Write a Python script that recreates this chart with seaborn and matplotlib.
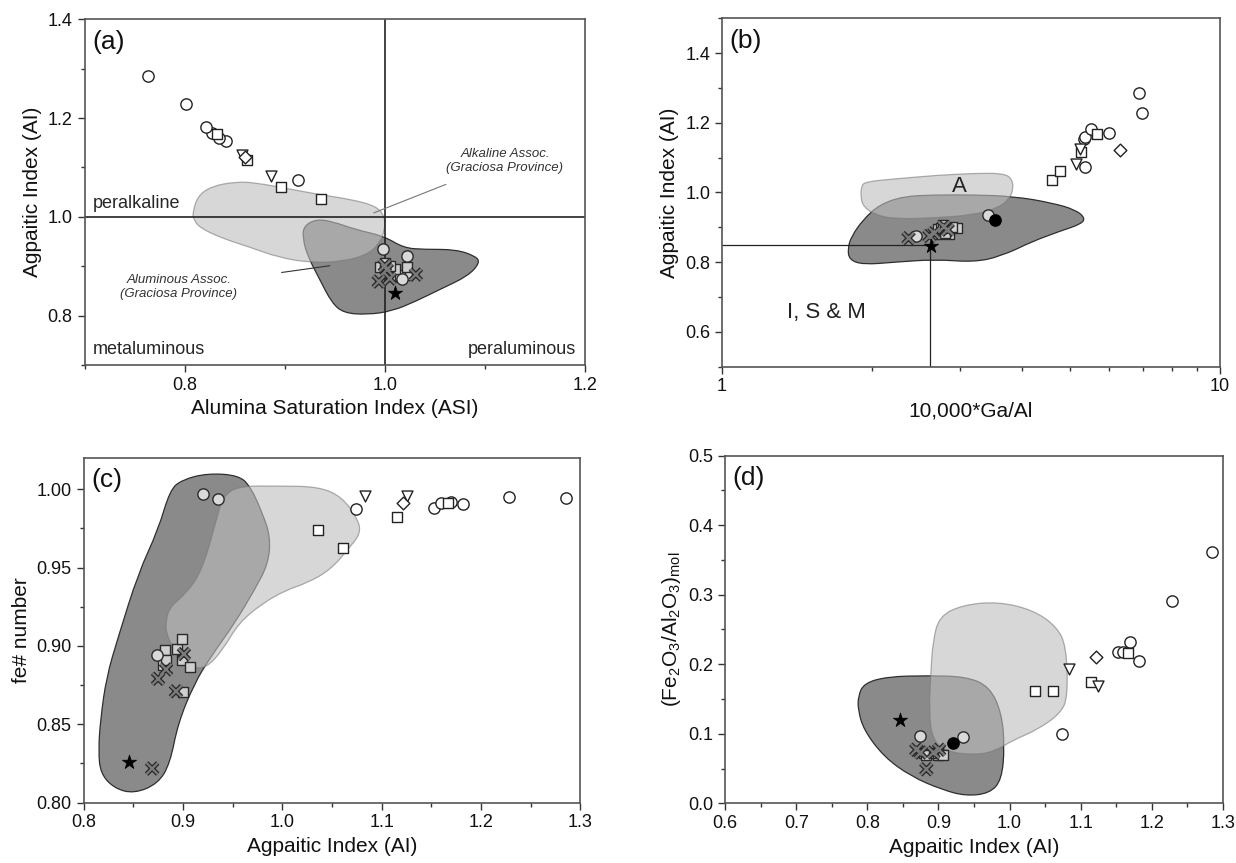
import numpy as np
import pandas as pd
import matplotlib
matplotlib.use("Agg")
import matplotlib.pyplot as plt
import matplotlib.patheffects as pe
from matplotlib.path import Path
from matplotlib.patches import PathPatch
from matplotlib.ticker import MultipleLocator, FormatStrFormatter, LogLocator, NullFormatter
import seaborn as sns

nan = np.nan

# ---- samples (one value per sample, same order in every array of a group)
# open circles
circ_ai = [1.074, 1.153, 1.160, 1.170, 1.182, 1.228, 1.285]
circ_asi = [0.913, 0.841, 0.834, 0.827, 0.821, 0.801, 0.763]
circ_ga = [5.36, 5.33, 5.36, 5.98, 5.51, 6.99, 6.88]
circ_fe = [0.9876, 0.9879, 0.9913, 0.9917, 0.9908, 0.9953, 0.9942]
circ_feal = [0.100, 0.217, 0.218, 0.232, 0.205, 0.291, 0.362]

# open squares
sq_ai = [1.036, 1.061, 1.115, 1.167]
sq_asi = [0.936, 0.896, 0.862, 0.832]
sq_ga = [4.61, 4.78, 5.27, 5.66]
sq_fe = [0.974, 0.9625, 0.9825, 0.9915]
sq_feal = [0.161, 0.161, 0.174, 0.216]

# open down triangles
tri_ai = [1.083, 1.125]
tri_asi = [0.886, 0.857]
tri_ga = [5.13, 5.24]
tri_fe = [0.996, 0.996]
tri_feal = [0.193, 0.169]

# open diamond
dia_ai = [1.121]
dia_asi = [0.860]
dia_ga = [6.29]
dia_fe = [0.991]
dia_feal = [0.211]

# grey circles
gc_ai = [0.935, 0.920, 0.874]
gc_asi = [0.998, 1.022, 1.017]
gc_ga = [3.42, nan, 2.45]
gc_fe = [0.994, 0.9968, 0.894]
gc_feal = [0.096, nan, 0.097]

# black circle
bc_ai = [0.920]
bc_asi = [nan]
bc_ga = [3.54]
bc_fe = [nan]
bc_feal = [0.087]

# grey squares
gs_ai = [0.880, 0.882, 0.883, 0.894, 0.899, 0.899, 0.900, 0.907]
gs_asi = [1.009, 1.022, 1.015, 1.010, 0.995, 1.022, 1.005, 1.000]
gs_ga = [2.86, 2.72, 2.80, 2.72, 2.75, 2.97, 2.90, 2.78]
gs_fe = [0.8875, 0.8973, 0.891, 0.898, 0.9044, 0.891, 0.8707, 0.8867]
gs_feal = [0.072, 0.072, 0.070, 0.072, 0.072, 0.070, 0.072, 0.0695]

# crosses
x_ai = [0.869, 0.875, 0.883, 0.893, 0.901]
x_asi = [0.994, 1.005, 1.031, 1.002, 1.000]
x_ga = [2.37, 2.61, 2.67, 2.84, 2.79]
x_fe = [0.8217, 0.879, 0.885, 0.871, 0.8948]
x_feal = [0.077, 0.073, 0.049, 0.073, 0.077]

# star
st_ai = [0.846]
st_asi = [1.010]
st_ga = [2.63]
st_fe = [0.826]
st_feal = [0.120]

# ---- Graciosa Province fields (outline vertices)
alk_a_x = [0.808, 0.813, 0.827, 0.851, 0.871, 0.903, 0.935, 0.967, 0.991, 1.000,
           1.000, 0.995, 0.983, 0.959, 0.927, 0.895, 0.863, 0.837, 0.815, 0.809]
alk_a_y = [1.008, 1.042, 1.062, 1.071, 1.069, 1.057, 1.045, 1.035, 1.022, 1.001,
           0.974, 0.947, 0.924, 0.910, 0.907, 0.917, 0.940, 0.957, 0.978, 0.995]
alu_a_x = [0.919, 0.931, 0.947, 0.971, 0.999, 1.019, 1.039, 1.071, 1.091, 1.095,
           1.083, 1.055, 1.031, 1.007, 0.983, 0.959, 0.947, 0.935, 0.923, 0.918]
alu_a_y = [0.981, 0.995, 0.991, 0.974, 0.961, 0.937, 0.934, 0.934, 0.920, 0.907,
           0.880, 0.853, 0.829, 0.809, 0.802, 0.805, 0.826, 0.873, 0.920, 0.957]

alk_b_x = [1.905, 1.94, 2.22, 2.67, 3.20, 3.66, 3.82, 3.85,
           3.76, 3.57, 3.20, 2.67, 2.22, 2.03, 1.92, 1.90]
alk_b_y = [1.017, 1.031, 1.039, 1.049, 1.055, 1.055, 1.041, 1.008,
           0.979, 0.955, 0.936, 0.927, 0.924, 0.936, 0.960, 0.989]
alu_b_x = [1.79, 1.82, 1.92, 2.07, 2.31, 2.67, 3.20, 3.83, 4.60, 5.13,
           5.36, 5.27, 4.77, 4.20, 3.63, 3.20, 2.67, 2.22, 1.92, 1.80]
alu_b_y = [0.841, 0.874, 0.922, 0.965, 0.989, 0.993, 0.993, 0.989, 0.970, 0.950,
           0.927, 0.910, 0.889, 0.860, 0.817, 0.800, 0.808, 0.800, 0.793, 0.807]

alk_c_x = [0.883, 0.887, 0.9035, 0.9196, 0.9337, 0.940, 0.9558, 0.996, 1.0363, 1.060,
           1.0766, 1.0786, 1.0685, 1.0484, 1.0243, 1.004, 0.980, 0.9558, 0.940, 0.9236,
           0.9095, 0.8914, 0.883]
alk_c_y = [0.9165, 0.925, 0.9335, 0.9485, 0.9804, 0.9953, 1.0021, 1.0021, 1.0017, 0.9953,
           0.9804, 0.9719, 0.9634, 0.9485, 0.940, 0.9357, 0.9272, 0.9144, 0.8973, 0.886,
           0.886, 0.8973, 0.908]
alu_c_x = [0.815, 0.817, 0.823, 0.835, 0.855, 0.875, 0.887, 0.899, 0.924, 0.956,
           0.968, 0.980, 0.988, 0.986, 0.972, 0.952, 0.928, 0.9115, 0.895, 0.887,
           0.875, 0.851, 0.831, 0.817]
alu_c_y = [0.8334, 0.8526, 0.880, 0.9059, 0.9463, 0.974, 0.9996, 1.006, 1.0102, 1.009,
           1.0017, 0.9847, 0.9698, 0.9527, 0.9357, 0.9144, 0.8931, 0.876, 0.8505, 0.8249,
           0.8121, 0.8057, 0.809, 0.8185]

alk_d_x = [0.892, 0.9005, 0.9337, 0.9835, 1.0333, 1.0665, 1.080, 1.082, 1.072,
           1.0388, 1.0056, 0.978, 0.950, 0.9116, 0.892, 0.8867, 0.8895]
alk_d_y = [0.230, 0.2685, 0.2852, 0.290, 0.278, 0.254, 0.2253, 0.1534, 0.1294,
           0.1055, 0.0911, 0.0743, 0.0695, 0.0743, 0.0911, 0.1294, 0.1918]
alu_d_x = [0.787, 0.795, 0.8286, 0.884, 0.939, 0.972, 0.989, 0.993,
           0.989, 0.972, 0.939, 0.906, 0.8618, 0.823, 0.795, 0.787]
alu_d_y = [0.1534, 0.1726, 0.1822, 0.1836, 0.1822, 0.1678, 0.1294, 0.0815,
           0.0336, 0.0144, 0.0105, 0.0192, 0.0384, 0.0671, 0.1055, 0.1342]

# reference boundaries
asi_split = 1.0
ai_split_a = 1.0
ga_split = 2.62
ai_split_b = 0.85

# ---- table of samples
groups = {
    "circle": (circ_ai, circ_asi, circ_ga, circ_fe, circ_feal),
    "square": (sq_ai, sq_asi, sq_ga, sq_fe, sq_feal),
    "triangle": (tri_ai, tri_asi, tri_ga, tri_fe, tri_feal),
    "diamond": (dia_ai, dia_asi, dia_ga, dia_fe, dia_feal),
    "grey circle": (gc_ai, gc_asi, gc_ga, gc_fe, gc_feal),
    "black circle": (bc_ai, bc_asi, bc_ga, bc_fe, bc_feal),
    "grey square": (gs_ai, gs_asi, gs_ga, gs_fe, gs_feal),
    "cross": (x_ai, x_asi, x_ga, x_fe, x_feal),
    "star": (st_ai, st_asi, st_ga, st_fe, st_feal),
}
frames = []
for name, (ai, asi, ga, fe, feal) in groups.items():
    frames.append(pd.DataFrame({"group": name, "AI": ai, "ASI": asi, "GA": ga,
                                "FE": fe, "FEAL": feal}))
df = pd.concat(frames, ignore_index=True)

STYLES = {
    "circle": dict(marker="o", s=66, color="white", edgecolor="#222222", linewidth=1.0),
    "square": dict(marker="s", s=56, color="white", edgecolor="#222222", linewidth=1.0),
    "triangle": dict(marker="v", s=62, color="white", edgecolor="#222222", linewidth=1.0),
    "diamond": dict(marker="D", s=42, color="white", edgecolor="#222222", linewidth=1.0),
    "grey square": dict(marker="s", s=56, color="#cfcfcf", edgecolor="#2a2a2a", linewidth=1.0),
    "grey circle": dict(marker="o", s=66, color="#d9d9d9", edgecolor="#2a2a2a", linewidth=1.0),
    "black circle": dict(marker="o", s=66, color="black", edgecolor="black", linewidth=1.0),
    "cross": dict(marker="x", s=64, color="#7a7a7a", linewidth=1.7),
    "star": dict(marker="*", s=115, color="black", edgecolor="black", linewidth=0.5),
}

sns.set_style("ticks")
plt.rcParams["font.family"] = ["Liberation Sans", "DejaVu Sans"]
plt.rcParams["mathtext.fontset"] = "custom"
plt.rcParams["mathtext.rm"] = "Liberation Sans"
plt.rcParams["mathtext.it"] = "Liberation Sans:italic"

DARK = "#8a8a8a"
LIGHT = "#bdbdbd"


def blob(ax, xs, ys, face, edge, alpha, z):
    # smooth closed outline through the traced vertices
    pts = np.column_stack([xs, ys])
    mids = (pts + np.roll(pts, -1, axis=0)) / 2
    verts = [mids[-1]]
    codes = [Path.MOVETO]
    for p, m in zip(pts, mids):
        verts += [p, m]
        codes += [Path.CURVE3, Path.CURVE3]
    patch = PathPatch(Path(verts, codes), facecolor=face, edgecolor=edge,
                      alpha=alpha, linewidth=0.9, zorder=z)
    ax.add_patch(patch)


def fields(ax, alk_x, alk_y, alu_x, alu_y):
    blob(ax, alu_x, alu_y, DARK, "#2e2e2e", 1.0, 1.0)
    blob(ax, alk_x, alk_y, LIGHT, "#7a7a7a", 0.6, 1.2)


def samples(ax, xcol, ycol):
    for name in STYLES:
        sub = df[df.group == name].dropna(subset=[xcol, ycol])
        if sub.empty:
            continue
        sns.scatterplot(data=sub, x=xcol, y=ycol, ax=ax, legend=False, zorder=4,
                        **STYLES[name])
        if name == "cross":
            ax.collections[-1].set_path_effects(
                [pe.Stroke(linewidth=3.5, foreground="#262626"), pe.Normal()])


def style_axes(ax, xlabel, ylabel):
    ax.set_xlabel(xlabel, fontsize=15, color="#111111")
    ax.set_ylabel(ylabel, fontsize=15, color="#111111")
    for sp in ax.spines.values():
        sp.set_color("#555555")
        sp.set_linewidth(1.2)
    ax.tick_params(which="both", direction="out", top=False, right=False,
                   colors="#333333", labelcolor="#111111", labelsize=13, width=1.0)
    ax.tick_params(which="major", length=5)
    ax.tick_params(which="minor", length=3)


def letter(ax, s):
    ax.text(0.015, 0.935, s, transform=ax.transAxes, fontsize=19, ha="left",
            va="center", color="#111111")


fig = plt.figure(figsize=(12.36, 8.63), dpi=100)
ax_a = fig.add_axes([0.0684, 0.5771, 0.4049, 0.4005])
ax_b = fig.add_axes([0.5841, 0.5751, 0.4029, 0.4037])
ax_c = fig.add_axes([0.0676, 0.0701, 0.4020, 0.3992])
ax_d = fig.add_axes([0.5867, 0.0692, 0.4026, 0.4028])

# (a) ASI vs AI
ax = ax_a
fields(ax, alk_a_x, alk_a_y, alu_a_x, alu_a_y)
ax.axvline(asi_split, color="#222222", lw=1.2, zorder=2)
ax.axhline(ai_split_a, color="#222222", lw=1.2, zorder=2)
samples(ax, "ASI", "AI")
ax.set_xlim(0.7, 1.2)
ax.set_ylim(0.7, 1.4)
ax.xaxis.set_major_locator(MultipleLocator(0.2))
ax.xaxis.set_minor_locator(MultipleLocator(0.1))
ax.yaxis.set_major_locator(MultipleLocator(0.2))
ax.yaxis.set_minor_locator(MultipleLocator(0.1))
ax.xaxis.set_major_formatter(FormatStrFormatter("%.1f"))
ax.yaxis.set_major_formatter(FormatStrFormatter("%.1f"))
style_axes(ax, "Alumina Saturation Index (ASI)", "Agpaitic Index (AI)")
letter(ax, "(a)")
ax.text(0.708, 1.027, "peralkaline", fontsize=13, va="center", ha="left")
ax.text(0.708, 0.731, "metaluminous", fontsize=13, va="center", ha="left")
ax.text(1.191, 0.731, "peraluminous", fontsize=13, va="center", ha="right")
ax.annotate("Alkaline Assoc.\n(Graciosa Province)", xy=(0.989, 1.008),
            xytext=(1.12, 1.113), fontsize=9.5, style="italic", color="#333333",
            ha="center", va="center", zorder=5,
            arrowprops=dict(arrowstyle="-", color="#777777", lw=0.8,
                            shrinkA=14, shrinkB=0))
ax.annotate("Aluminous Assoc.\n(Graciosa Province)", xy=(0.945, 0.901),
            xytext=(0.794, 0.858), fontsize=9.5, style="italic", color="#333333",
            ha="center", va="center", zorder=5,
            arrowprops=dict(arrowstyle="-", color="#333333", lw=0.8,
                            shrinkA=30, shrinkB=0))

# (b) Ga/Al vs AI
ax = ax_b
ax.set_xscale("log")
fields(ax, alk_b_x, alk_b_y, alu_b_x, alu_b_y)
ax.plot([1, ga_split], [ai_split_b, ai_split_b], color="#222222", lw=0.9, zorder=2)
ax.plot([ga_split, ga_split], [0.5, ai_split_b], color="#222222", lw=0.9, zorder=2)
samples(ax, "GA", "AI")
ax.set_xlim(1, 10)
ax.set_ylim(0.5, 1.5)
ax.set_xticks([1, 10])
ax.set_xticklabels(["1", "10"])
ax.xaxis.set_minor_locator(LogLocator(base=10, subs=np.arange(2, 10)))
ax.xaxis.set_minor_formatter(NullFormatter())
ax.yaxis.set_minor_locator(MultipleLocator(0.1))
ax.set_yticks(np.arange(0.6, 1.41, 0.2))
ax.yaxis.set_major_formatter(FormatStrFormatter("%.1f"))
style_axes(ax, "10,000*Ga/Al", "Agpaitic Index (AI)")
letter(ax, "(b)")
ax.text(3.0, 1.017, "A", fontsize=16, ha="center", va="center", color="#222222", zorder=5)
ax.text(1.62, 0.655, "I, S & M", fontsize=16, ha="center", va="center", color="#222222")

# (c) AI vs fe#
ax = ax_c
fields(ax, alk_c_x, alk_c_y, alu_c_x, alu_c_y)
samples(ax, "AI", "FE")
ax.set_xlim(0.8, 1.3)
ax.set_ylim(0.80, 1.02)
ax.xaxis.set_major_locator(MultipleLocator(0.1))
ax.xaxis.set_minor_locator(MultipleLocator(0.05))
ax.yaxis.set_major_locator(MultipleLocator(0.05))
ax.yaxis.set_minor_locator(MultipleLocator(0.025))
ax.xaxis.set_major_formatter(FormatStrFormatter("%.1f"))
ax.yaxis.set_major_formatter(FormatStrFormatter("%.2f"))
style_axes(ax, "Agpaitic Index (AI)", "fe# number")
letter(ax, "(c)")

# (d) AI vs Fe2O3/Al2O3
ax = ax_d
fields(ax, alk_d_x, alk_d_y, alu_d_x, alu_d_y)
samples(ax, "AI", "FEAL")
ax.set_xlim(0.6, 1.3)
ax.set_ylim(0.0, 0.5)
ax.xaxis.set_major_locator(MultipleLocator(0.1))
ax.xaxis.set_minor_locator(MultipleLocator(0.05))
ax.yaxis.set_major_locator(MultipleLocator(0.1))
ax.yaxis.set_minor_locator(MultipleLocator(0.05))
ax.xaxis.set_major_formatter(FormatStrFormatter("%.1f"))
ax.yaxis.set_major_formatter(FormatStrFormatter("%.1f"))
style_axes(ax, "Agpaitic Index (AI)",
           r"(Fe$_2$O$_3$/Al$_2$O$_3$)$_{\mathrm{mol}}$")
letter(ax, "(d)")

fig.savefig("out.png", dpi=100)
